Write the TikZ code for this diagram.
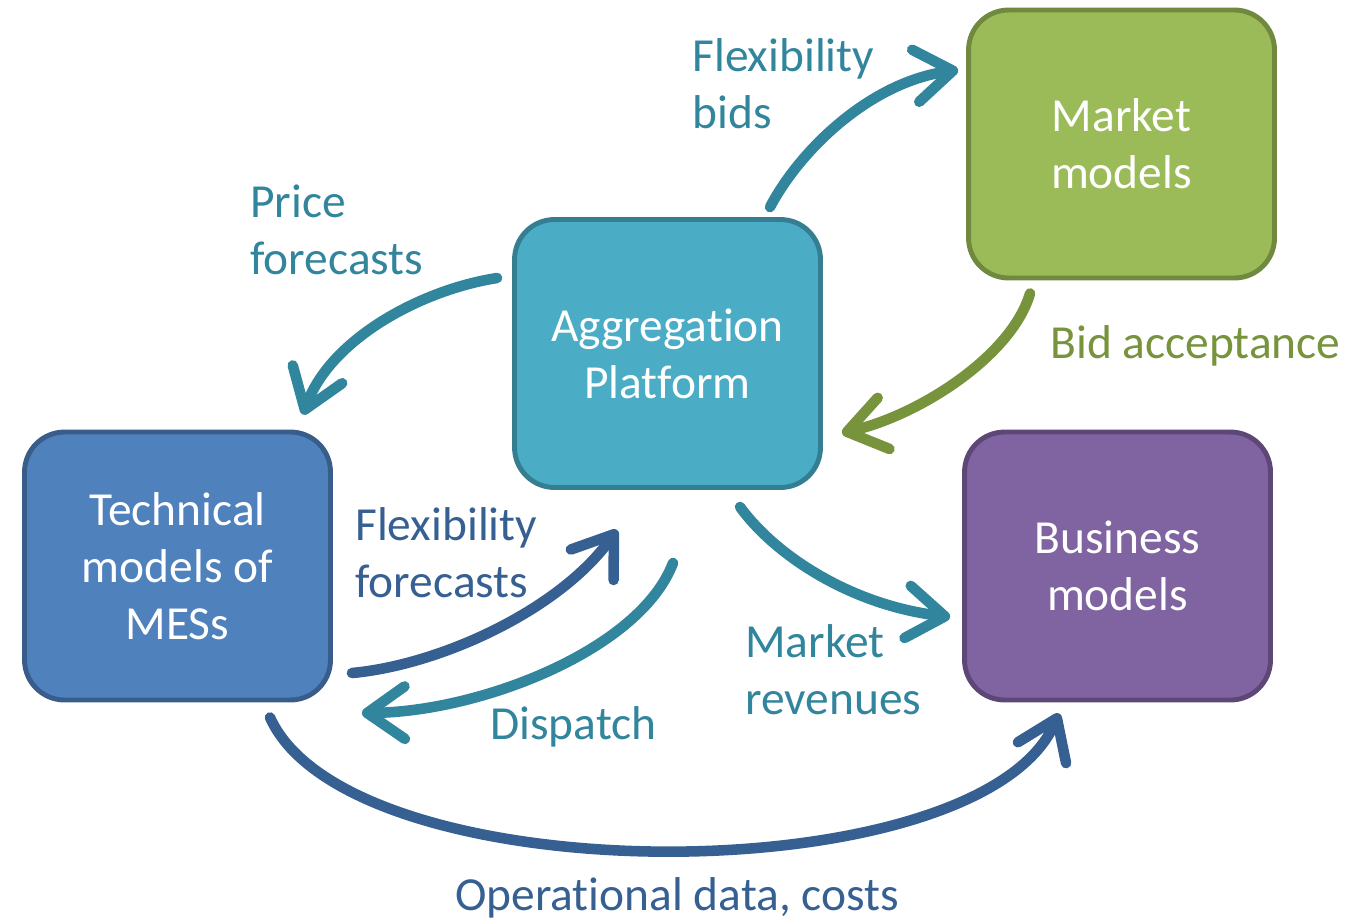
\documentclass[tikz,border=0pt]{standalone}
\usepackage{fontspec}
\setmainfont{Carlito}[Ligatures=NoCommon]
\usetikzlibrary{arrows.meta}

\definecolor{aggfill}{HTML}{4BACC6}
\definecolor{aggline}{HTML}{357D91}
\definecolor{mktfill}{HTML}{9BBB59}
\definecolor{mktline}{HTML}{71893F}
\definecolor{techfill}{HTML}{4F81BD}
\definecolor{techline}{HTML}{385D8A}
\definecolor{busfill}{HTML}{8064A2}
\definecolor{busline}{HTML}{5C4776}
\definecolor{teal}{HTML}{31859C}
\definecolor{olive}{HTML}{77933C}
\definecolor{navy}{HTML}{376092}

\tikzset{
  box/.style={draw, rectangle, rounded corners=0.8cm, align=center, text=white, line width=2.8pt,
    minimum width=6.12cm, minimum height=5.36cm, font=\fontsize{27}{32.5}\selectfont},
  tag/.style={anchor=west, inner sep=0pt, align=left, font=\fontsize{27}{32.5}\selectfont},
  flow/.style={line width=6pt, line cap=round, -{Straight Barb[length=0.75cm, width=1.05cm, round]}}
}

\begin{document}
\begin{tikzpicture}[x=0.02cm, y=-0.02cm]
\fill[white] (0,0) rectangle (1371,920);
\useasboundingbox (0,0) rectangle (1371,920);

% the four model blocks
\node[box, fill=aggfill, draw=aggline] (agg) at (667.5,353.5) {Aggregation\\Platform};
\node[box, fill=mktfill, draw=mktline] (mkt) at (1121.5,144) {Market\\models};
\node[box, fill=techfill, draw=techline] (tech) at (177.5,566) {Technical\\models of\\MESs};
\node[box, fill=busfill, draw=busline] (bus) at (1117.5,566) {Business\\models};

% labels of the exchanges
\node[tag, text=teal] (bids) at (692,83.5) {Flexibility\\bids};
\node[tag, text=teal] (price) at (250,230) {Price\\forecasts};
\node[tag, text=olive] (accept) at (1050,345.5) {Bid acceptance};
\node[tag, text=navy] (flexfc) at (355,552.5) {Flexibility\\forecasts};
\node[tag, text=teal] (dispatch) at (490,726.5) {Dispatch};
\node[tag, text=teal] (revenue) at (745,670) {Market\\revenues};
\node[tag, anchor=center, text=navy] (opdata) at (677,898) {Operational data, costs};

% exchanges
\draw[flow, teal] ([shift={(102.5,-10)}]agg.north) .. controls +(30,-57) and +(-88,12) .. ([shift={(-8,-74)}]mkt.west);
\draw[flow, teal] ([shift={(-15,-75.5)}]agg.west) .. controls +(-77,12) and +(27,-75) .. ([shift={(125.5,-15)}]tech.north);
\draw[flow, olive] ([shift={(-91.5,13)}]mkt.south) .. controls +(-18,62) and +(78,-18) .. ([shift={(19,79.5)}]agg.east);
\draw[flow, navy] ([shift={(19,107)}]tech.east) .. controls +(88,-8) and +(-57,80) .. ([shift={(-50.5,40)}]agg.south);
\draw[flow, teal] ([shift={(5.5,73)}]agg.south) .. controls +(-33,87) and +(118,-1) .. ([shift={(29,147)}]tech.east);
\draw[flow, teal] ([shift={(72.5,17)}]agg.south) .. controls +(35,48) and +(-100,-12) .. ([shift={(-12,51)}]bus.west);
\draw[flow, navy] ([shift={(92.5,15)}]tech.south) .. controls +(80,178) and +(-79,182) .. ([shift={(-58.5,11)}]bus.south);

\end{tikzpicture}
\end{document}
